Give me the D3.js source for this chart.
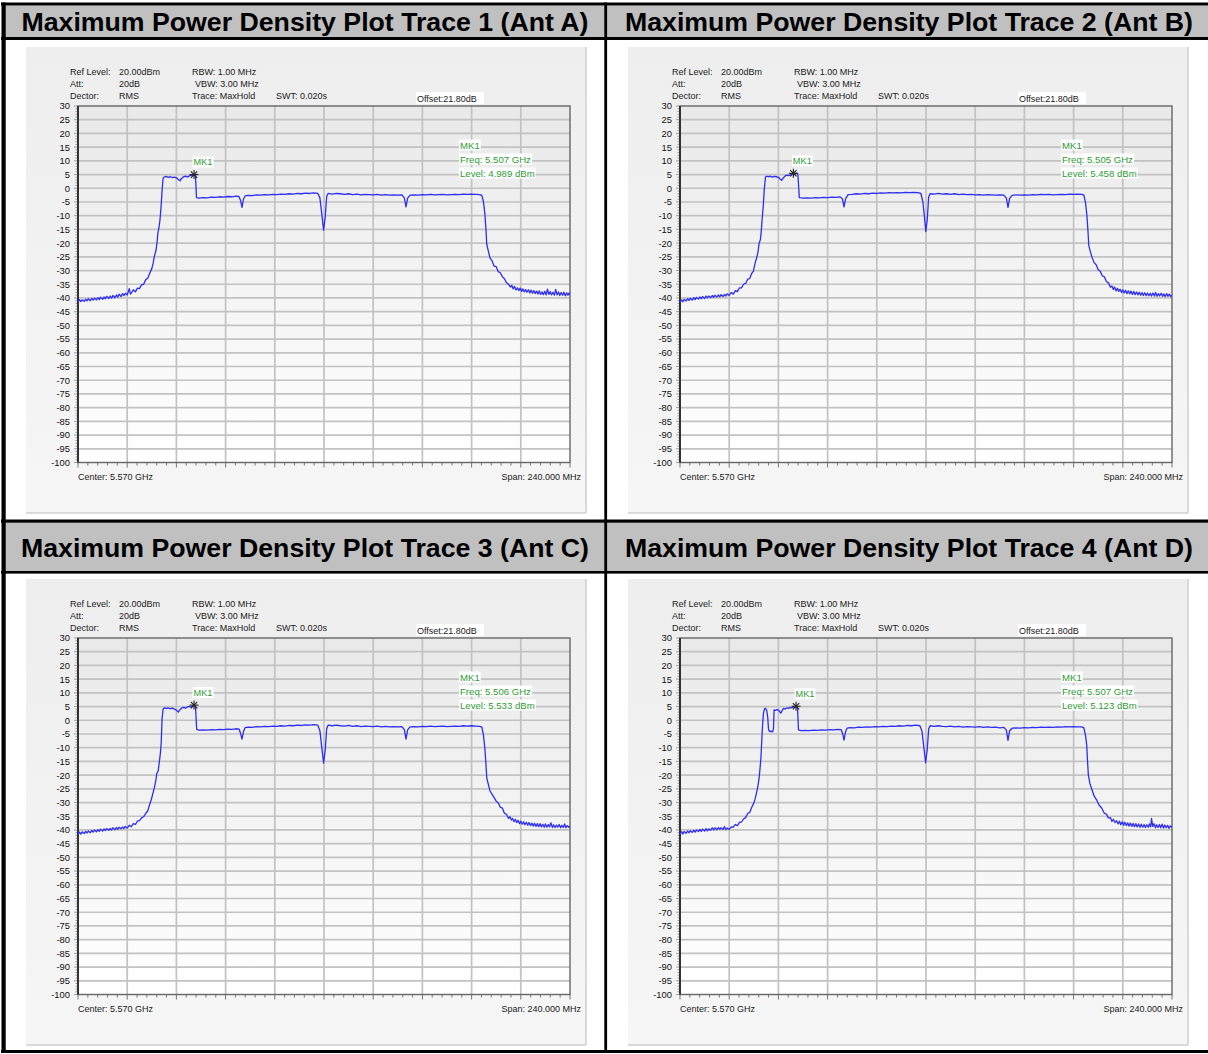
<!DOCTYPE html>
<html><head><meta charset="utf-8">
<script src="https://cdn.jsdelivr.net/npm/d3@7"></script>
<style>body{margin:0;background:#fff}svg{display:block}</style>
</head><body>
<svg id="c" width="1208" height="1054"></svg>
<script>
// ---------------- DATA ----------------
const panelTitles = [
  "Maximum Power Density Plot Trace 1 (Ant A)",
  "Maximum Power Density Plot Trace 2 (Ant B)",
  "Maximum Power Density Plot Trace 3 (Ant C)",
  "Maximum Power Density Plot Trace 4 (Ant D)"
];
const yTickValues = [30,25,20,15,10,5,0,-5,-10,-15,-20,-25,-30,-35,-40,-45,-50,-55,-60,-65,-70,-75,-80,-85,-90,-95,-100];
const freqStartMHz = 5450, freqStopMHz = 5690;
const infoNames = ["Ref Level:", "Att:", "Dector:"];
const infoValues = ["20.00dBm", "20dB", "RMS"];
const infoMid = ["RBW: 1.00 MHz", "VBW: 3.00 MHz", "Trace: MaxHold"];
const sweepText = "SWT: 0.020s";
const offsetText = "Offset:21.80dB";
const centerText = "Center: 5.570 GHz";
const spanText = "Span: 240.000 MHz";
const markerName = "MK1";
const markerFreqMHz = [5506.6, 5505.3, 5506.6, 5506.6];
const markerLevel = [4.989, 5.458, 5.533, 5.123];
const markerFreqText = ["Freq: 5.507 GHz", "Freq: 5.505 GHz", "Freq: 5.506 GHz", "Freq: 5.507 GHz"];
const markerLevelText = ["Level: 4.989 dBm", "Level: 5.458 dBm", "Level: 5.533 dBm", "Level: 5.123 dBm"];

// traces: [frequency MHz, level dBm]
const traceA = [[5450,-41.4],[5450.7,-40.6],[5451.4,-41.3],[5452,-40.7],[5453,-41.2],[5453.7,-40.5],[5454.4,-41.0],[5455,-40.3],[5456,-41.0],[5456.7,-40.2],[5457.4,-40.8],[5458,-40.1],[5459,-40.7],[5459.7,-39.9],[5460.4,-40.6],[5461,-39.7],[5462,-40.5],[5462.7,-39.6],[5463.4,-40.3],[5464,-39.4],[5465,-40.2],[5465.7,-39.3],[5466.4,-40.1],[5467,-39.1],[5468,-39.9],[5468.7,-38.9],[5469.4,-39.7],[5470,-38.6],[5471,-39.5],[5471.7,-38.4],[5472.4,-39.2],[5473,-38.3],[5474,-38.9],[5475,-36.6],[5475.6,-38.6],[5476.4,-37.8],[5477,-37.0],[5478,-37.8],[5479,-36.4],[5480,-36.6],[5481,-35.2],[5482,-35.0],[5483,-33.4],[5484,-32.8],[5485,-31.0],[5486,-29.3],[5486.6,-27.5],[5487.2,-25.0],[5488,-22.8],[5488.6,-19.5],[5489,-16.0],[5489.4,-14.8],[5490,-11.5],[5490.5,-7.0],[5491,-1.0],[5491.5,3.6],[5492,4.1],
[5493,4.3],[5494,4.0],[5495,4.2],[5496,3.9],[5497,4.1],[5498,3.8],[5499,3.2],[5499.8,2.7],[5500.5,3.6],[5501.5,4.2],[5502.5,4.4],[5503.5,4.1],[5504.5,4.6],[5505.5,4.7],[5506.6,4.989],[5507.3,4.6],[5507.8,-3.4],
[5509,-3.6],[5511,-3.4],[5513,-3.5],[5515,-3.2],[5517,-3.3],[5519,-3.1],[5521,-3.2],[5523,-3.0],[5525,-3.1],[5527,-2.9],[5528.5,-3.0],[5529.3,-4.5],[5530,-7.0],[5530.7,-4.0],[5531.5,-2.8],[5533,-2.6],[5535,-2.7],[5537,-2.4],[5539,-2.5],[5541,-2.3],[5543,-2.4],[5545,-2.2],[5547,-2.3],[5549,-2.1],[5551,-2.2],[5553,-2.0],[5555,-2.1],[5557,-1.9],[5559,-2.0],[5561,-1.8],[5563,-1.9],[5565,-1.7],[5567,-1.9],[5568,-3.5],[5569,-10.0],[5569.8,-15.3],[5570.6,-10.5],[5571.3,-3.0],[5572,-1.9],
[5574,-2.1],[5576,-1.9],[5578,-2.0],[5580,-2.2],[5582,-2.0],[5584,-2.3],[5586,-2.1],[5588,-2.4],[5590,-2.2],[5592,-2.3],[5594,-2.4],[5596,-2.2],[5598,-2.5],[5600,-2.3],[5602,-2.5],[5604,-2.4],[5606,-2.5],[5608,-2.4],[5609.2,-3.5],[5610,-6.8],[5610.8,-3.6],[5612,-2.5],[5614,-2.4],[5616,-2.5],[5618,-2.3],[5620,-2.4],[5622,-2.2],[5624,-2.4],[5626,-2.3],[5628,-2.2],[5630,-2.4],[5632,-2.3],[5634,-2.2],[5636,-2.3],[5638,-2.1],[5640,-2.2],[5642,-2.1],[5644,-2.2],[5646,-2.3],[5647,-2.6],[5647.8,-5.0],[5648.5,-9.5],[5649,-15.0],[5649.4,-20.5],[5650.2,-23.0],[5651,-25.5],[5652,-26.5],[5653,-28.4],[5654,-28.6],[5655,-30.4],[5656,-30.8],[5657,-32.2],[5658,-33.0],[5659,-34.4],[5660,-35.0],[5661,-36.0],[5661.6,-35.4],[5662.3,-36.7],[5663,-35.8],[5663.7,-37.1],[5664.4,-36.3],[5665,-37.3],[5665.7,-36.4],[5666.4,-37.6],[5667,-36.7],[5667.7,-37.8],[5668.4,-36.9],[5669,-37.9],[5669.7,-37.0],[5670.4,-38.2],[5671,-37.1],[5671.7,-38.3],[5672.4,-37.3],[5673,-38.4],[5673.7,-37.5],[5674.4,-38.6],[5675,-37.4],[5675.7,-38.7],[5676.4,-37.8],[5677,-38.8],[5677.7,-37.6],[5678.4,-38.9],[5679,-36.8],[5679.7,-38.7],[5680.4,-37.7],[5681,-38.9],[5681.7,-37.9],[5682.4,-39.0],[5683,-36.9],[5683.7,-38.9],[5684.4,-37.8],[5685,-39.1],[5685.7,-38.0],[5686.4,-39.0],[5687,-37.9],[5687.7,-39.2],[5688.4,-38.1],[5689,-39.0],[5689.5,-38.2],[5690,-38.9]];

const traceB = [[5450,-41.5],[5450.7,-40.7],[5451.4,-41.4],[5452,-40.5],[5453,-41.1],[5453.7,-40.3],[5454.4,-40.9],[5455,-40.1],[5456,-40.8],[5456.7,-39.9],[5457.4,-40.6],[5458,-39.8],[5459,-40.4],[5459.7,-39.6],[5460.4,-40.3],[5461,-39.5],[5462,-40.2],[5462.7,-39.3],[5463.4,-40.0],[5464,-39.3],[5465,-39.9],[5465.7,-39.1],[5466.4,-39.8],[5467,-39.0],[5468,-39.7],[5468.7,-38.9],[5469.4,-39.6],[5470,-38.8],[5471,-39.5],[5471.7,-38.7],[5472.4,-39.3],[5473,-38.5],[5474,-39.1],[5475,-38.0],[5476,-38.6],[5477,-37.3],[5478,-37.7],[5479,-36.3],[5480,-36.3],[5481,-35.0],[5482,-34.7],[5483,-33.2],[5484,-32.9],[5485,-31.0],[5485.8,-30.2],[5486.6,-27.4],[5487.3,-25.6],[5488,-23.5],[5488.6,-20.0],[5489.2,-18.8],[5489.6,-16.0],[5490.1,-11.0],[5490.6,-6.5],[5491.1,-0.5],[5491.7,4.1],[5492.3,4.4],
[5493,4.2],[5494,4.4],[5495,4.1],[5496,4.3],[5497,4.2],[5498,4.0],[5498.8,3.4],[5499.6,2.9],[5500.4,3.8],[5501.3,4.5],[5502.2,4.8],[5503.1,4.6],[5504,5.0],[5504.7,5.2],[5505.3,5.458],[5506,5.1],[5506.8,5.6],[5507.5,5.2],[5508.2,-3.4],
[5510,-3.6],[5512,-3.5],[5514,-3.6],[5516,-3.4],[5518,-3.5],[5520,-3.3],[5522,-3.4],[5524,-3.2],[5526,-3.3],[5528,-3.1],[5529.2,-3.8],[5530,-6.8],[5530.8,-3.8],[5532,-2.3],[5534,-2.2],[5536,-2.0],[5538,-2.1],[5540,-1.9],[5542,-2.0],[5544,-1.8],[5546,-1.9],[5548,-1.7],[5550,-1.8],[5552,-1.6],[5554,-1.7],[5556,-1.6],[5558,-1.7],[5560,-1.5],[5562,-1.6],[5564,-1.5],[5566,-1.6],[5567.5,-1.9],[5568.5,-5.0],[5569.3,-11.0],[5569.9,-15.8],[5570.6,-11.5],[5571.3,-3.2],[5572,-2.0],
[5574,-2.1],[5576,-1.9],[5578,-2.1],[5580,-2.0],[5582,-2.2],[5584,-2.0],[5586,-2.3],[5588,-2.1],[5590,-2.3],[5592,-2.2],[5594,-2.4],[5596,-2.3],[5598,-2.5],[5600,-2.3],[5602,-2.4],[5604,-2.5],[5606,-2.4],[5608,-2.5],[5609.2,-3.6],[5610,-7.0],[5610.8,-3.7],[5612,-2.6],[5614,-2.4],[5616,-2.5],[5618,-2.4],[5620,-2.5],[5622,-2.3],[5624,-2.4],[5626,-2.2],[5628,-2.3],[5630,-2.2],[5632,-2.4],[5634,-2.3],[5636,-2.2],[5638,-2.3],[5640,-2.1],[5642,-2.2],[5644,-2.1],[5646,-2.2],[5647,-2.5],[5647.8,-5.2],[5648.5,-10.0],[5649,-15.5],[5649.4,-20.8],[5650.2,-23.2],[5651,-25.2],[5652,-27.1],[5653,-27.9],[5654,-29.7],[5655,-30.3],[5656,-31.9],[5657,-32.3],[5658,-34.0],[5659,-34.5],[5660,-36.1],[5660.7,-35.6],[5661.4,-36.9],[5662,-36.0],[5662.7,-37.4],[5663.4,-36.5],[5664,-37.6],[5664.7,-36.8],[5665.4,-38.0],[5666,-37.0],[5666.7,-38.2],[5667.4,-37.2],[5668,-38.4],[5668.7,-37.4],[5669.4,-38.5],[5670,-37.5],[5670.7,-38.7],[5671.4,-37.6],[5672,-38.8],[5672.7,-37.8],[5673.4,-38.9],[5674,-37.9],[5674.7,-39.0],[5675.4,-38.0],[5676,-39.1],[5676.7,-38.1],[5677.4,-39.2],[5678,-38.2],[5678.7,-39.2],[5679.4,-38.3],[5680,-39.3],[5680.7,-38.2],[5681.4,-39.3],[5682,-38.0],[5682.7,-39.4],[5683.4,-38.4],[5684,-39.3],[5684.7,-38.3],[5685.4,-39.4],[5686,-38.5],[5686.7,-39.5],[5687.4,-38.4],[5688,-39.4],[5688.7,-38.6],[5689.4,-39.5],[5690,-38.9]];

const traceC = [[5450,-41.6],[5450.7,-40.8],[5451.4,-41.5],[5452,-40.7],[5453,-41.3],[5453.7,-40.5],[5454.4,-41.1],[5455,-40.4],[5456,-41.0],[5456.7,-40.2],[5457.4,-40.8],[5458,-40.0],[5459,-40.7],[5459.7,-39.9],[5460.4,-40.5],[5461,-39.7],[5462,-40.4],[5462.7,-39.6],[5463.4,-40.2],[5464,-39.5],[5465,-40.1],[5465.7,-39.4],[5466.4,-40.0],[5467,-39.2],[5468,-39.9],[5468.7,-39.1],[5469.4,-39.8],[5470,-39.0],[5471,-39.6],[5471.7,-38.9],[5472.4,-39.5],[5473,-38.7],[5474,-39.3],[5475,-38.3],[5476,-38.8],[5477,-37.7],[5478,-38.0],[5479,-36.8],[5480,-36.6],[5481,-35.6],[5482,-35.2],[5483,-34.0],[5484,-33.1],[5485,-30.6],[5485.8,-28.8],[5486.6,-26.5],[5487.3,-24.4],[5488,-21.8],[5488.5,-19.2],[5489.1,-18.6],[5489.7,-15.0],[5490.2,-12.0],[5490.6,-8.0],[5491,0.5],[5491.5,4.0],[5492.1,4.5],
[5493,4.3],[5494,4.5],[5495,4.2],[5496,4.4],[5497,4.1],[5498,3.7],[5498.9,3.0],[5499.8,3.9],[5500.7,4.5],[5501.6,4.7],[5502.5,4.4],[5503.4,4.9],[5504.3,5.1],[5505.2,4.8],[5505.9,5.3],[5506.6,5.533],[5507.3,5.1],[5507.9,-3.3],
[5509,-3.6],[5511,-3.5],[5513,-3.6],[5515,-3.4],[5517,-3.5],[5519,-3.3],[5521,-3.4],[5523,-3.2],[5525,-3.3],[5527,-3.1],[5528.6,-3.2],[5529.3,-4.8],[5530,-6.9],[5530.7,-4.2],[5531.5,-2.7],[5533,-2.5],[5535,-2.6],[5537,-2.3],[5539,-2.4],[5541,-2.2],[5543,-2.3],[5545,-2.1],[5547,-2.2],[5549,-2.0],[5551,-2.1],[5553,-1.9],[5555,-2.0],[5557,-1.8],[5559,-1.9],[5561,-1.7],[5563,-1.8],[5565,-1.6],[5567,-1.8],[5568,-3.8],[5569,-10.5],[5569.8,-15.6],[5570.6,-10.8],[5571.3,-3.1],[5572,-1.8],
[5574,-2.0],[5576,-1.8],[5578,-2.0],[5580,-2.1],[5582,-1.9],[5584,-2.2],[5586,-2.0],[5588,-2.3],[5590,-2.1],[5592,-2.2],[5594,-2.3],[5596,-2.1],[5598,-2.4],[5600,-2.2],[5602,-2.4],[5604,-2.3],[5606,-2.4],[5608,-2.3],[5609.2,-3.4],[5610,-6.9],[5610.8,-3.5],[5612,-2.4],[5614,-2.3],[5616,-2.4],[5618,-2.2],[5620,-2.3],[5622,-2.1],[5624,-2.3],[5626,-2.2],[5628,-2.1],[5630,-2.3],[5632,-2.2],[5634,-2.1],[5636,-2.2],[5638,-2.0],[5640,-2.1],[5642,-2.0],[5644,-2.1],[5646,-2.2],[5647,-2.5],[5647.8,-5.5],[5648.5,-10.5],[5649,-16.0],[5649.4,-21.0],[5650.2,-23.5],[5651,-25.8],[5652,-27.0],[5653,-28.2],[5654,-29.5],[5655,-30.1],[5656,-31.7],[5657,-32.0],[5658,-33.9],[5659,-34.3],[5660,-35.8],[5660.7,-35.2],[5661.4,-36.4],[5662,-35.8],[5662.7,-37.0],[5663.4,-36.1],[5664,-37.3],[5664.7,-36.5],[5665.4,-37.7],[5666,-36.8],[5666.7,-37.9],[5667.4,-37.0],[5668,-38.1],[5668.7,-37.2],[5669.4,-38.3],[5670,-37.3],[5670.7,-38.4],[5671.4,-37.5],[5672,-38.6],[5672.7,-37.6],[5673.4,-38.7],[5674,-37.7],[5674.7,-38.8],[5675.4,-37.7],[5676,-38.9],[5676.7,-37.9],[5677.4,-39.0],[5678,-37.8],[5678.7,-39.0],[5679.4,-38.0],[5680,-38.9],[5680.7,-37.4],[5681.4,-39.1],[5682,-38.1],[5682.7,-39.1],[5683.4,-38.2],[5684,-39.0],[5684.7,-38.0],[5685.4,-39.2],[5686,-38.3],[5686.7,-39.1],[5687.4,-37.8],[5688,-39.2],[5688.7,-38.4],[5689.4,-39.0],[5690,-38.6]];

const traceD = [[5450,-41.4],[5450.7,-40.6],[5451.4,-41.5],[5452,-40.6],[5453,-41.2],[5453.7,-40.4],[5454.4,-41.0],[5455,-40.3],[5456,-40.9],[5456.7,-40.1],[5457.4,-40.8],[5458,-40.0],[5459,-40.6],[5459.7,-39.8],[5460.4,-40.5],[5461,-39.7],[5462,-40.4],[5462.7,-39.5],[5463.4,-40.3],[5464,-39.6],[5465,-40.1],[5465.7,-39.2],[5466.4,-40.0],[5467,-39.2],[5468,-39.9],[5468.7,-39.1],[5469.4,-39.8],[5470,-39.2],[5471,-39.8],[5471.7,-38.8],[5472.4,-39.9],[5473,-39.3],[5474,-39.8],[5475,-38.9],[5476,-39.0],[5477,-38.0],[5478,-38.4],[5479,-37.2],[5480,-37.1],[5481,-36.0],[5482,-35.5],[5483,-34.0],[5484,-33.6],[5485,-31.7],[5486,-30.2],[5486.7,-28.5],[5487.4,-26.2],[5488,-24.0],[5488.6,-21.0],[5489.1,-17.0],[5489.5,-13.5],[5489.9,-7.2],[5490.3,-1.5],[5490.7,2.5],[5491.2,4.1],[5491.7,4.4],[5492.3,3.6],[5492.8,1.0],[5493.2,-3.5],[5493.8,-4.1],[5494.5,-4.0],[5495.2,-4.2],[5495.6,-3.0],[5495.9,3.8],[5496.6,3.6],[5497.3,3.9],[5498,3.8],[5498.6,3.2],[5499.2,2.6],[5499.8,3.5],[5500.5,4.3],[5501.3,4.1],[5502,4.5],[5502.8,4.3],[5503.6,4.7],[5504.4,4.5],[5505.2,4.9],[5505.9,4.7],[5506.6,5.123],[5507.3,4.8],[5507.8,-3.5],
[5509,-3.8],[5511,-3.7],[5513,-3.8],[5515,-3.6],[5517,-3.7],[5519,-3.5],[5521,-3.6],[5523,-3.4],[5525,-3.5],[5527,-3.3],[5528.6,-3.4],[5529.3,-4.8],[5530,-7.2],[5530.7,-4.3],[5531.5,-2.9],[5533,-2.7],[5535,-2.8],[5537,-2.5],[5539,-2.6],[5541,-2.4],[5543,-2.5],[5545,-2.3],[5547,-2.4],[5549,-2.2],[5551,-2.3],[5553,-2.1],[5555,-2.2],[5557,-2.0],[5559,-2.1],[5561,-1.9],[5563,-2.0],[5565,-1.8],[5567,-2.0],[5568,-3.8],[5569,-10.2],[5569.8,-15.5],[5570.6,-10.6],[5571.3,-3.2],[5572,-2.0],
[5574,-2.2],[5576,-2.0],[5578,-2.2],[5580,-2.3],[5582,-2.1],[5584,-2.4],[5586,-2.2],[5588,-2.5],[5590,-2.3],[5592,-2.4],[5594,-2.5],[5596,-2.3],[5598,-2.6],[5600,-2.4],[5602,-2.6],[5604,-2.5],[5606,-2.8],[5608,-2.6],[5609.2,-3.6],[5610,-7.3],[5610.8,-3.8],[5612,-2.9],[5614,-2.8],[5616,-2.9],[5618,-2.7],[5620,-2.8],[5622,-2.6],[5624,-2.7],[5626,-2.5],[5628,-2.6],[5630,-2.5],[5632,-2.6],[5634,-2.4],[5636,-2.5],[5638,-2.3],[5640,-2.4],[5642,-2.3],[5644,-2.4],[5646,-2.4],[5647,-2.8],[5647.8,-5.5],[5648.4,-9.0],[5648.8,-15.0],[5649.2,-20.0],[5650,-23.2],[5650.8,-25.0],[5652,-27.6],[5653.2,-29.0],[5654.4,-30.9],[5655.7,-32.0],[5657,-33.9],[5658,-34.2],[5658.9,-35.6],[5660,-35.5],[5660.7,-36.9],[5661.4,-36.1],[5662.2,-37.3],[5663,-36.6],[5663.7,-37.8],[5664.4,-36.8],[5665,-38.1],[5665.7,-37.0],[5666.4,-38.3],[5667,-37.2],[5667.7,-38.4],[5668.4,-37.4],[5669,-38.6],[5669.7,-37.5],[5670.4,-38.7],[5671,-37.6],[5671.7,-38.8],[5672.4,-37.7],[5673,-38.9],[5673.7,-37.8],[5674.4,-39.0],[5675,-37.9],[5675.7,-39.0],[5676.4,-38.0],[5677,-39.1],[5677.7,-38.1],[5678.4,-39.0],[5679,-37.8],[5679.6,-38.9],[5680,-35.8],[5680.6,-38.7],[5681.2,-37.7],[5681.9,-39.2],[5682.5,-38.1],[5683.2,-39.1],[5683.9,-38.0],[5684.5,-39.2],[5685.2,-37.9],[5685.9,-39.3],[5686.5,-38.2],[5687.2,-39.2],[5687.9,-38.3],[5688.5,-39.4],[5689.2,-38.5],[5690,-39.1]];

const traces = [traceA, traceB, traceC, traceD];

// ---------------- LAYOUT ----------------
const svg = d3.select('#c');
const PW = 492, PH = 356.5;
const FONT = "'Liberation Sans', Arial, sans-serif";

// table frame
svg.append('rect').attr('x',0).attr('y',0).attr('width',1208).attr('height',1054).attr('fill','#fff');
const headerBands = [[5.5,37],[522.5,571]];
headerBands.forEach(b => svg.append('rect').attr('x',5).attr('y',b[0]).attr('width',1203).attr('height',b[1]-b[0]).attr('fill','#c0c0c0'));
const hLines = [[2.5,3],[37,3],[519.5,3.2],[571,2.6],[1050,3]];
hLines.forEach(l => svg.append('rect').attr('x',1).attr('y',l[0]).attr('width',1207).attr('height',l[1]).attr('fill','#000'));
svg.append('rect').attr('x',1.5).attr('y',2.5).attr('width',4.2).attr('height',1050.5).attr('fill','#000');
svg.append('rect').attr('x',604.3).attr('y',2.5).attr('width',2.8).attr('height',1050.5).attr('fill','#000');

const titlePos = [[305,31],[909,31],[305,557],[909,557]];
panelTitles.forEach((t,i) => {
  svg.append('text').attr('x',titlePos[i][0]).attr('y',titlePos[i][1])
    .attr('text-anchor','middle').attr('font-family',FONT).attr('font-weight','bold')
    .attr('font-size',26.7).attr('fill','#000').text(t);
});

// gradient
const defs = svg.append('defs');
const grad = defs.append('linearGradient').attr('id','pbg').attr('x1',0).attr('y1',0).attr('x2',0).attr('y2',1);
grad.append('stop').attr('offset','0%').attr('stop-color','#e9e9e9');
grad.append('stop').attr('offset','100%').attr('stop-color','#ffffff');
const pgrad = defs.append('linearGradient').attr('id','panbg').attr('x1',0).attr('y1',0).attr('x2',0).attr('y2',1);
pgrad.append('stop').attr('offset','0%').attr('stop-color','#eeeeee');
pgrad.append('stop').attr('offset','100%').attr('stop-color','#f6f6f6');
defs.append('clipPath').attr('id','pclip').append('rect').attr('x',0).attr('y',0).attr('width',PW).attr('height',PH);

const x = d3.scaleLinear().domain([freqStartMHz, freqStopMHz]).range([0, PW]);
const y = d3.scaleLinear().domain([-100, 30]).range([PH, 0]);
const line = d3.line().x(d => x(d[0])).y(d => y(d[1]));

const txt = (g, xx, yy, s, opts={}) => g.append('text').attr('x',xx).attr('y',yy)
  .attr('font-family',FONT).attr('font-size',opts.size||9).attr('fill',opts.fill||'#1a1a1a')
  .attr('text-anchor',opts.anchor||'start').text(s);

traces.forEach((tr, i) => {
  const col = i % 2, row = Math.floor(i / 2);
  const g = svg.append('g').attr('transform', `translate(${78 + 602*col},${106 + 532*row})`);
  // panel
  g.append('rect').attr('x',-52).attr('y',-59).attr('width',560).attr('height',466).attr('fill','url(#panbg)');
  g.append('line').attr('x1',508).attr('x2',508).attr('y1',-59).attr('y2',407).attr('stroke','#cfcfcf').attr('stroke-width',1.5);
  g.append('line').attr('x1',-52).attr('x2',508).attr('y1',407).attr('y2',407).attr('stroke','#cfcfcf').attr('stroke-width',1.5);
  // plot bg
  g.append('rect').attr('x',0).attr('y',0).attr('width',PW).attr('height',PH).attr('fill','url(#pbg)');
  // grid
  yTickValues.slice(1,-1).forEach(v => g.append('line').attr('x1',0).attr('x2',PW).attr('y1',y(v)).attr('y2',y(v))
    .attr('stroke','#c2c2c2').attr('stroke-width',1.7));
  const vgrid = d3.range(1,10).map(k => freqStartMHz + k*(freqStopMHz-freqStartMHz)/10);
  vgrid.forEach(f => g.append('line').attr('x1',x(f)).attr('x2',x(f)).attr('y1',0).attr('y2',PH)
    .attr('stroke','#c2c2c2').attr('stroke-width',1.7));
  // bottom ticks
  d3.range(0,51).forEach(k => {
    const f = freqStartMHz + k*(freqStopMHz-freqStartMHz)/50;
    const major = k % 5 === 0;
    g.append('line').attr('x1',x(f)).attr('x2',x(f)).attr('y1',PH).attr('y2',PH + (major?5:3))
      .attr('stroke','#777').attr('stroke-width',1);
  });
  // left ticks (1 dB)
  d3.range(-100,31,1).forEach(v => {
    const major = v % 5 === 0;
    g.append('line').attr('x1',-(major?4:2.5)).attr('x2',0).attr('y1',y(v)).attr('y2',y(v))
      .attr('stroke','#888').attr('stroke-width',0.8);
  });
  // frame
  g.append('rect').attr('x',0).attr('y',0).attr('width',PW).attr('height',PH).attr('fill','none')
    .attr('stroke','#666').attr('stroke-width',1.4);
  g.append('line').attr('x1',0).attr('x2',0).attr('y1',0).attr('y2',PH).attr('stroke','#333').attr('stroke-width',2);
  // y labels
  yTickValues.forEach(v => txt(g, -8, y(v)+3.4, v, {anchor:'end', size:9.4, fill:'#111'}));
  // info block
  infoNames.forEach((s,k) => txt(g, -8, -31 + 12*k, s));
  infoValues.forEach((s,k) => txt(g, 41, -31 + 12*k, s));
  infoMid.forEach((s,k) => txt(g, k===1?117:114, -31 + 12*k, s));
  txt(g, 198, -7, sweepText);
  g.append('rect').attr('x',338).attr('y',-14).attr('width',68).attr('height',12).attr('fill','#fff');
  txt(g, 339, -4.5, offsetText);
  // center/span
  txt(g, 0, 374, centerText);
  txt(g, 503, 374, spanText, {anchor:'end'});
  // trace
  g.append('path').datum(tr).attr('d', line).attr('fill','none').attr('stroke','#2d2df5')
    .attr('stroke-width',1.3).attr('stroke-linejoin','round').attr('clip-path','url(#pclip)');
  // marker
  const mx = x(markerFreqMHz[i]), my = y(markerLevel[i]);
  const star = g.append('g').attr('transform',`translate(${mx},${my})`);
  [0,45,90,135].forEach(a => star.append('line').attr('x1',-4.5).attr('x2',4.5).attr('y1',0).attr('y2',0)
    .attr('transform',`rotate(${a})`).attr('stroke','#222').attr('stroke-width',1.1));
  g.append('rect').attr('x',mx-1.5).attr('y',my-18).attr('width',21).attr('height',11).attr('fill','#fff');
  txt(g, mx-0.5, my-9.5, markerName, {fill:'#2f9a36', size:9.2});
  // marker info
  const infoLines = [markerName, markerFreqText[i], markerLevelText[i]];
  infoLines.forEach((s,k) => {
    const t = txt(g, 382, 42.5 + 14*k, s, {fill:'#2f9a36', size:9.6});
    const bb = t.node().getBBox();
    g.insert('rect', () => t.node()).attr('x',bb.x-1).attr('y',bb.y).attr('width',bb.width+2).attr('height',bb.height).attr('fill','#fff');
  });
});
</script>
</body></html>
